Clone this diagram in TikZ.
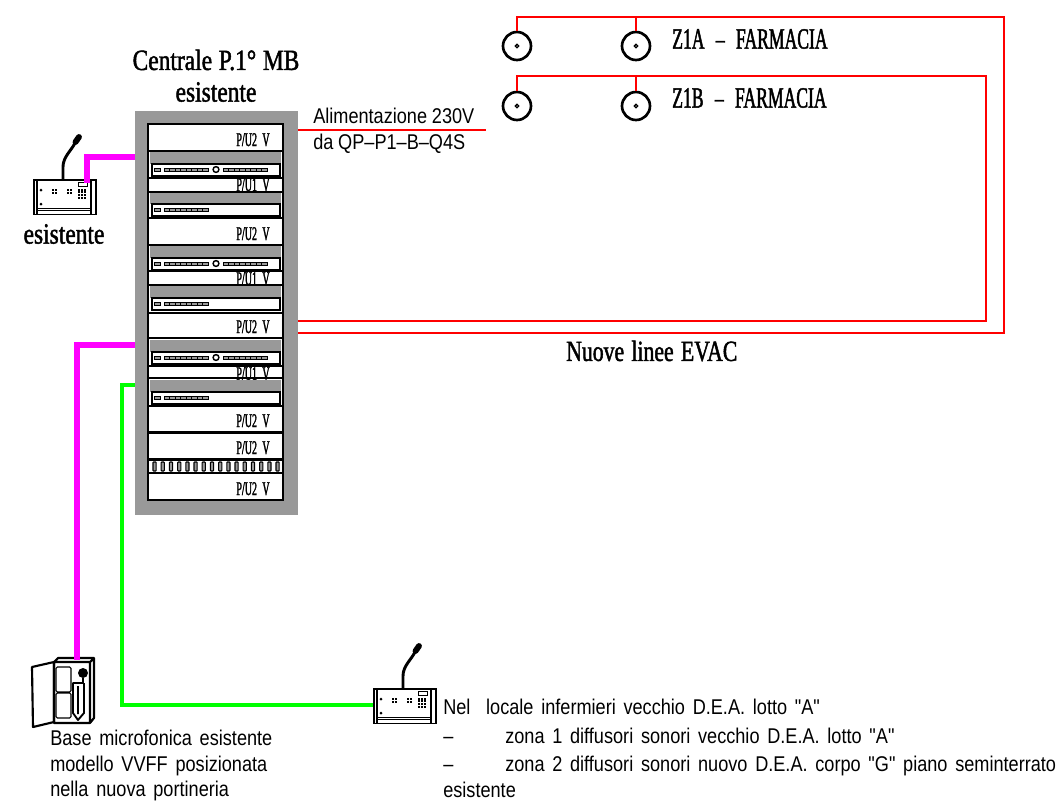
\documentclass[tikz,border=0pt]{standalone}
\usepackage{fontspec}
\newfontfamily\cadsans[FakeStretch=0.85]{Liberation Sans}
\newfontfamily\cadserif[FakeStretch=0.8,FakeBold=1.5]{Liberation Serif}
\newfontfamily\cadserifb[FakeStretch=0.74,FakeBold=1.5]{Liberation Serif}
\newfontfamily\cadserifc[FakeStretch=0.6,FakeBold=1.5]{Liberation Serif}
\newfontfamily\cadsmall[FakeStretch=0.52,FakeBold=1.5]{Liberation Serif}
\setmainfont{Liberation Sans}
\usetikzlibrary{calc}
\definecolor{evacred}{RGB}{255,0,0}
\definecolor{micmag}{RGB}{255,0,255}
\definecolor{lgreen}{RGB}{0,255,0}
\definecolor{rackg}{RGB}{153,153,153}
\newcommand{\wspace}[1]{\spaceskip #1\relax}
\tikzset{
  evac/.style={draw=evacred,line width=2.2pt},
  micline/.style={draw=micmag,line width=3.8pt},
  greenline/.style={draw=lgreen,line width=2.3pt},
  rackgray/.style={fill=rackg,draw=none},
  rowbox/.style={draw=black,line width=1.2pt,fill=white},
  speaker/.style={circle,draw=black,line width=2pt,minimum size=21pt,inner sep=0pt,fill=white},
  sertitle/.style={font={\cadserif\fontsize{22}{24}\selectfont\wspace{5pt}},inner sep=0pt},
  serb/.style={font={\cadserifb\fontsize{22}{24}\selectfont\wspace{5.5pt}},inner sep=0pt},
  serc/.style={font={\cadserifc\fontsize{22}{24}\selectfont\wspace{8.5pt}},inner sep=0pt},
  sanstext/.style={font={\cadsans\fontsize{16}{18}\selectfont\wspace{5.8pt}},inner sep=0pt,anchor=base west},
  powertext/.style={font={\cadsans\fontsize{16}{18}\selectfont\wspace{3.6pt}},inner sep=0pt,anchor=base west},
  ulabel/.style={font={\cadsmall\fontsize{14.5}{14.5}\selectfont\wspace{4pt}},inner sep=0pt,anchor=base},
  consolebox/.style={draw=black,line width=1.2pt,fill=white,minimum width=46.5pt,minimum height=26pt,inner sep=0pt,anchor=north west}
}
\newcommand{\urow}[3]{% top, bottom, text
  \draw[rowbox] (148,#1) rectangle (283,#2);
  \node[ulabel] at (253,{#2-5}) {#3};}
\newcommand{\cellbar}[3]{% x0, y, x1
  \draw[black,line width=0.7pt,fill=rackg] (#1,#2-1.8) rectangle (#3,#2+1.8);
  \foreach \k in {1,...,7}{\draw[black,line width=0.5pt] ({#1+\k*(#3-#1)/8},#2-1.8) -- ++(0,3.6);}}
\newcommand{\panel}[3]{% gray top, device bottom, 1 = full device
  \fill[rackg] (150,#1) rectangle (281,{#2-12});
  \draw[black,line width=1.1pt,fill=white] (152,{#2-12}) rectangle (280,#2);
  \draw[black,line width=0.7pt,fill=rackg] (154,{#2-7.8}) rectangle (160,{#2-4.2});
  \cellbar{164}{#2-6}{208}
  \ifnum#3=1
    \draw[black,line width=1.1pt] (216,{#2-6.5}) circle (2.9);
    \cellbar{223}{#2-6}{267}
  \fi}
\newcommand{\consolebody}[2]{%
  \begin{scope}[shift={(#1,#2)}]
    \draw[black,line width=1pt] (4,0) -- (4,35) (58,0) -- (58,35);
    \draw[black,line width=0.7pt] (5,29) -- (57,29) (5,31) -- (57,31);
    \fill[black] (8,11) circle (1.5) (8,25) circle (1.5);
    \foreach \cx in {22,37}{
      \foreach \dx in {-2,1}{\foreach \dy in {-2,1}{
        \fill[black] (\cx+\dx-0.8,13+\dy-0.8) rectangle ++(2.2,2.2);}}}
    \foreach \dx in {0,2.7,5.4}{\foreach \dy in {0,2.7,5.4,8.1}{
      \fill[black] (45.2+\dx,9.5+\dy) rectangle ++(2,2);}}
    \draw[black,line width=0.7pt] (45,3.5) rectangle (54,7.5);
    \draw[black,line width=2.2pt] (30,1) -- (30,-12) .. controls (30,-22) and (38,-28) .. (42,-36);
    \draw[black,line width=4.4pt,line cap=round] (42.5,-37) -- (46,-42);
  \end{scope}}
\begin{document}
\begin{tikzpicture}[x=0.75pt,y=-0.75pt]
\useasboundingbox (0,0) rectangle (1057,804);
% --- rack ---
\node[rackgray,minimum width=122.25pt,minimum height=303pt,inner sep=0pt,anchor=north west] (rack) at (134.5,110.5) {};
\fill[white] (148,124) rectangle (283,500);
\draw[black,line width=1.2pt] (148,124) rectangle (283,500);
\urow{124}{151}{P/U2 V}
\panel{152}{176}{1}
\draw[rowbox] (148,178) rectangle (283,192);
\node[ulabel] at (253,191) {P/U1 V};
\panel{193}{216}{0}
\urow{218}{245}{P/U2 V}
\panel{246}{270}{1}
\draw[rowbox] (148,271) rectangle (283,285);
\node[ulabel] at (253,285) {P/U1 V};
\panel{286}{310}{0}
\urow{313}{338}{P/U2 V}
\panel{340}{364}{1}
\draw[rowbox] (148,366) rectangle (283,378);
\node[ulabel] at (253,380) {P/U1 V};
\panel{380}{404}{0}
\urow{406}{432}{P/U2 V}
\urow{433}{459}{P/U2 V}
\draw[rowbox] (148,460) rectangle (283,473);
\foreach \i in {0,...,15}{\draw[black,line width=0.8pt,fill=rackg,rounded corners=0.5pt] ({153+\i*8.2},462) rectangle ++(3.2,9);}
\urow{473}{500}{P/U2 V}
% --- consoles and cabinet ---
\node[consolebox] (con1) at (33,179) {};
\consolebody{33}{179}
\node[consolebox] (con2) at (373,688) {};
\consolebody{373}{688}
\node[inner sep=0pt,minimum width=46pt,minimum height=46pt,anchor=north west] (cab) at (54,658) {};
\draw[black,line width=1.6pt,line join=round] (54,662) -- (32,667) -- (33,727) -- (54,722) -- cycle;
\draw[black,line width=1.6pt,line join=round] (54,662) -- (58,658) -- (94,658) -- (94,718) -- (90,723) -- (54,723) -- (54,662) -- (90,662) -- (90,723) (90,662) -- (94,658);
\draw[black,line width=0.8pt,rounded corners=1pt] (56,667) rectangle (71,692) (56,693) rectangle (71,718);
\fill[black] (83,673) circle (5);
\draw[black,line width=1.4pt,line join=round] (83,678) -- (83,683) -- (73,683) -- (73,713) -- (78,720) -- (84,713) -- (84,683) (78,686) -- (78,714);
% --- speakers ---
\foreach \n/\px/\py in {a/517/46,b/636/46,c/517/106,d/636/106}{
  \node[speaker] (\n) at (\px,\py) {};
  \draw[black,line width=1pt] (\px,\py) circle (1.7);
}
% --- named connector ends ---
\coordinate (tr) at (1004,17);
\coordinate (br) at (1004,333);
\coordinate (tr2) at (986,76);
\coordinate (br2) at (986,321);
\coordinate (pw) at (486,130);
\coordinate (m1) at (87,183);
\coordinate (m2) at (77,660);
\coordinate (g1) at (373,705);
% --- connectors ---
\draw[evac,line join=miter] (a.north) |- (tr) -- (br) -- (rack.east |- br);
\draw[evac] (b.north) -- (b.north |- tr);
\draw[evac,line join=miter] (c.north) |- (tr2) -- (br2) -- (rack.east |- br2);
\draw[evac] (d.north) -- (d.north |- tr2);
\draw[evac] (rack.east |- pw) -- (pw);
\draw[micline,line join=miter] (rack.west |- 0,157) -| (m1);
\draw[micline,line join=miter] (rack.west |- 0,345) -| (m2);
\draw[greenline,line join=miter] (rack.west |- 0,385) -| (122,705) -- (g1);
% --- texts ---
\node[sertitle] (t1) at (216,60) {Centrale P.1° MB};
\node[sertitle] (t2) at (216,92) {esistente};
\node[sertitle] (t3) at (64,234) {esistente};
\node[serc,anchor=west] (z1) at (672,39) {Z1A – FARMACIA};
\node[serc,anchor=west] (z2) at (672,98) {Z1B – FARMACIA};
\node[serb,anchor=west] (ev) at (566,351) {Nuove linee EVAC};
\node[powertext] (p1) at (313,123) {Alimentazione 230V};
\node[powertext] (p2) at (313,149) {da QP–P1–B–Q4S};
\node[sanstext] (b1) at (50,745) {Base microfonica esistente};
\node[sanstext] (b2) at (50,771) {modello VVFF posizionata};
\node[sanstext] (b3) at (50,796) {nella nuova portineria};
\node[sanstext] (n1) at (443,714) {Nel\hspace{6pt} locale infermieri vecchio D.E.A. lotto "A"};
\node[sanstext] (n2) at (443,743) {–};
\node[sanstext] (n3) at (505,743) {zona 1 diffusori sonori vecchio D.E.A. lotto "A"};
\node[sanstext] (n4) at (443,771) {–};
\node[sanstext] (n5) at (505,771) {zona 2 diffusori sonori nuovo D.E.A. corpo "G" piano seminterrato};
\node[sanstext] (n6) at (443,797) {esistente};
\end{tikzpicture}
\end{document}
